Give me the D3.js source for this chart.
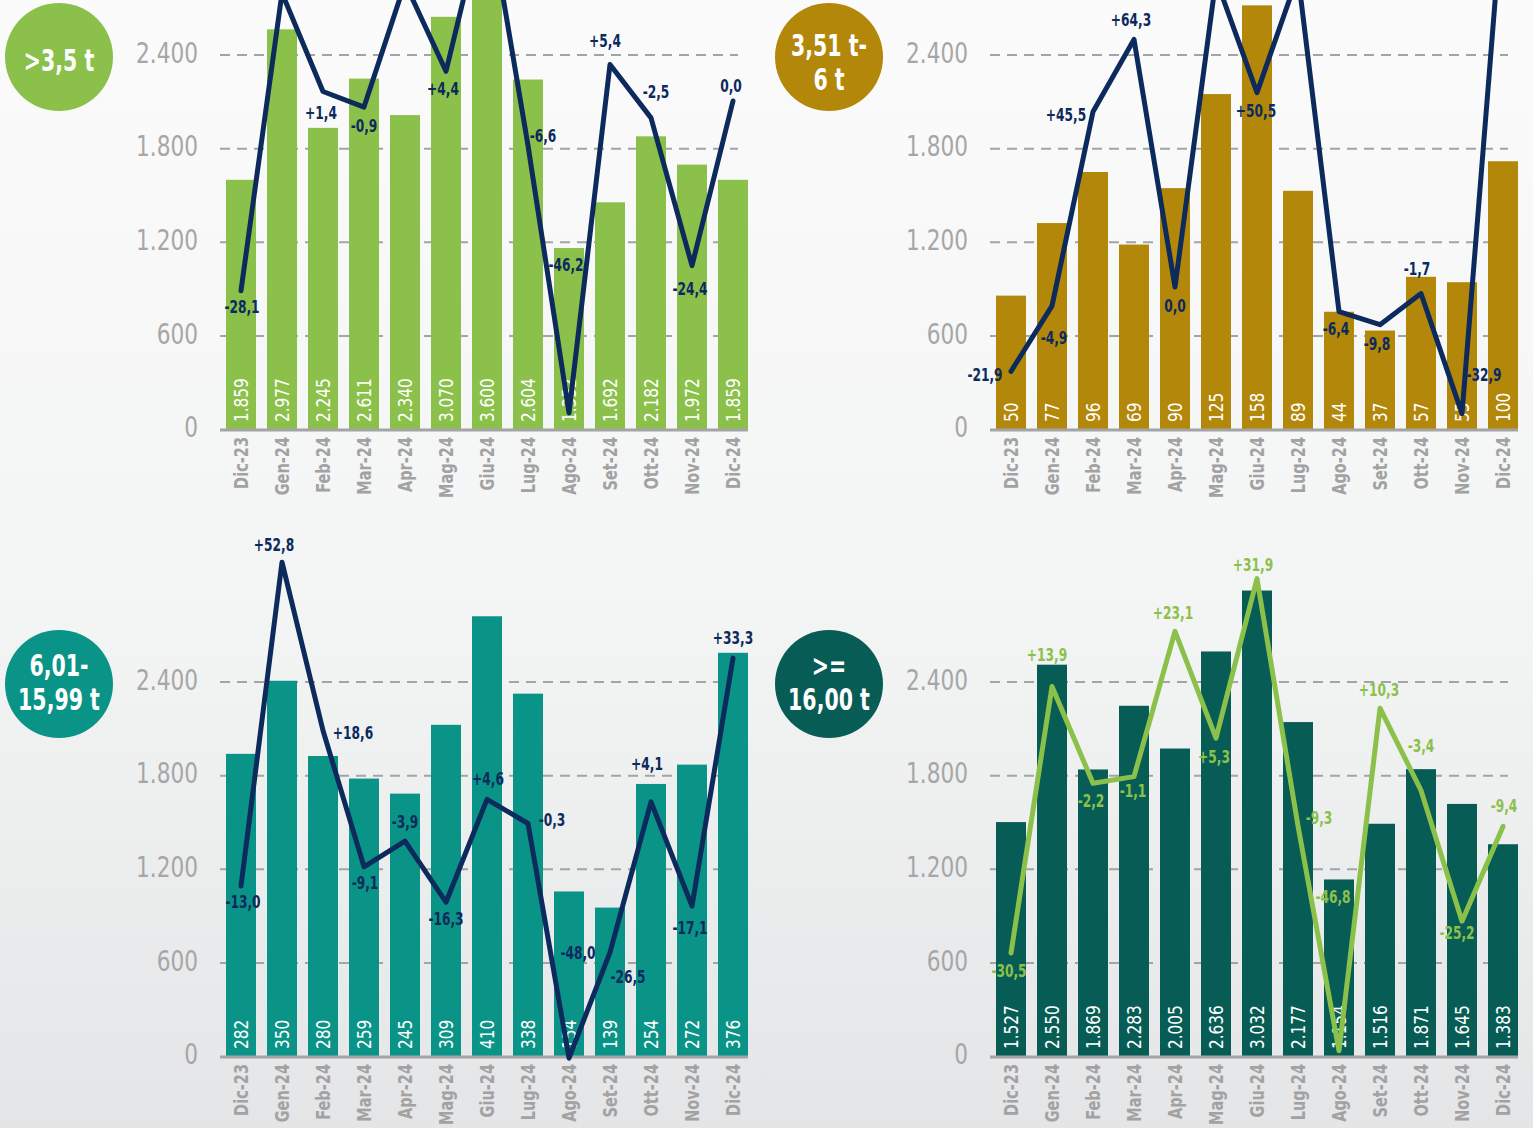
<!DOCTYPE html>
<html>
<head>
<meta charset="utf-8">
<script src="https://cdn.jsdelivr.net/npm/d3@7/dist/d3.min.js"></script>
<style>
  body { margin: 0; background: #f3f4f4; }
  svg { display: block; }
</style>
</head>
<body>
<svg id="chart" width="1533" height="1128"></svg>
<script>
// categories and ticks
var months = ["Dic-23", "Gen-24", "Feb-24", "Mar-24", "Apr-24", "Mag-24", "Giu-24",
              "Lug-24", "Ago-24", "Set-24", "Ott-24", "Nov-24", "Dic-24"];
var yTicks = [0, 600, 1200, 1800, 2400];

// >3,5 t
var volA = [1859, 2977, 2245, 2611, 2340, 3070, 3600, 2604, 1352, 1692, 2182, 1972, 1859];
var pctA = [-28.1, 16.0, 1.4, -0.9, 17.5, 4.4, 29.5, -6.6, -46.2, 5.4, -2.5, -24.4, 0.0];
// 3,51 t - 6 t
var volB = [50, 77, 96, 69, 90, 125, 158, 89, 44, 37, 57, 55, 100];
var pctB = [-21.9, -4.9, 45.5, 64.3, 0.0, 80.0, 50.5, 81.0, -6.4, -9.8, -1.7, -32.9, 100.0];
// 6,01 - 15,99 t
var volC = [282, 350, 280, 259, 245, 309, 410, 338, 154, 139, 254, 272, 376];
var pctC = [-13.0, 52.8, 18.6, -9.1, -3.9, -16.3, 4.6, -0.3, -48.0, -26.5, 4.1, -17.1, 33.3];
// >= 16,00 t
var volD = [1527, 2550, 1869, 2283, 2005, 2636, 3032, 2177, 1154, 1516, 1871, 1645, 1383];
var pctD = [-30.5, 13.9, -2.2, -1.1, 23.1, 5.3, 31.9, -9.3, -46.8, 10.3, -3.4, -25.2, -9.4];

var badgeA = [">3,5 t"];
var badgeB = ["3,51 t-", "6 t"];
var badgeC = ["6,01-", "15,99 t"];
var badgeD = [">=", "16,00 t"];

// label placement (dx, dy from the line vertex)
var lblA = [[1,16],[0,-20],[-2,22],[0,19],[0,-20],[-3,18],[0,-20],[15,-9],[-3,-148],[-5,-23],[5,-26],[-2,23],[-2,-15]];
var lblB = [[-26,4],[2,32],[-27,3],[-3,-19],[0,19],[0,-20],[-1,18],[0,-20],[-3,17],[-3,19],[-4,-25],[22,-39],[0,-20]];
var lblC = [[2,16],[-8,-17],[30,3],[1,16],[0,-19],[0,17],[1,-20],[24,-3],[9,-105],[18,25],[-4,-38],[-2,22],[0,-20]];
var lblD = [[-2,18],[-5,-32],[-2,18],[-1,14],[-2,-18],[-2,19],[-4,-14],[21,-8],[-6,-154],[-1,-18],[0,-44],[-5,12],[1,-20]];

var FONT = '"Liberation Sans Narrow", "DejaVu Sans Condensed", "Roboto Condensed", sans-serif';
var NAVY = "#0c2a5c";

var loc = d3.formatLocale({decimal: ",", thousands: ".", grouping: [3], currency: ["", ""], minus: "-"});
var fmtInt = loc.format(",d");
var fmtPct = function(v){ return v === 0 ? "0,0" : loc.format("+.1f")(v); };

var panels = [
    {x: 0,   y: 0,   vol: volA, pct: pctA, lbl: lblA, badge: badgeA, badgeDy: 3,  color: "#8bc14b", line: NAVY, barMax: 3195, pctDom: [-48.74, 14.96]},
    {x: 770, y: 0,   vol: volB, pct: pctB, lbl: lblB, badge: badgeB, badgeDy: 5,  color: "#b3870a", line: NAVY, barMax: 160,  pctDom: [-37.14, 74.55]},
    {x: 0,   y: 627, vol: volC, pct: pctC, lbl: lblC, badge: badgeC, badgeDy: -2, color: "#0a9488", line: NAVY, barMax: 400,  pctDom: [-47.76, 39.63]},
    {x: 770, y: 627, vol: volD, pct: pctD, lbl: lblD, badge: badgeD, badgeDy: -2, color: "#075d55", line: "#8bc14b", barMax: 2795, pctDom: [-47.83, 23.83]}
];

var svg = d3.select('#chart');

var defs = svg.append('defs');
var grad = defs.append('linearGradient').attr('id', 'bg').attr('x1', 0).attr('y1', 0).attr('x2', 0).attr('y2', 1);
grad.append('stop').attr('offset', '0%').attr('stop-color', '#fbfbfb');
grad.append('stop').attr('offset', '55%').attr('stop-color', '#f3f4f4');
grad.append('stop').attr('offset', '100%').attr('stop-color', '#e4e5e6');
svg.append('rect').attr('width', 1533).attr('height', 1128).attr('fill', 'url(#bg)');

// the font on hand is wider than the original one, so squeeze texts sideways
function tf(x, y, rot, sx){
    return 'translate(' + x + ',' + y + ')' + (rot ? ' rotate(' + rot + ')' : '') + ' scale(' + sx + ',1)';
}

function drawPanel(p){
    var BASE = 430;
    var g = svg.append('g').attr('transform', 'translate(' + p.x + ',' + p.y + ')');

    var x = d3.scaleBand().domain(months).range([220.5, 753.5])
        .paddingInner(11/41).paddingOuter(11/82);
    var yTick = d3.scaleLinear().domain([0, 2400]).range([429.5, 55]);
    var yBar = d3.scaleLinear().domain([0, p.barMax]).range([BASE, 0]);
    var yPct = d3.scaleLinear().domain(p.pctDom).range([BASE, 0]);
    var cxm = function(i){ return x(months[i]) + x.bandwidth()/2; };

    // gridlines
    g.append('g').selectAll('line').data(yTicks.filter(function(d){ return d > 0; }))
        .enter().append('line')
        .attr('x1', 220).attr('x2', 738)
        .attr('y1', function(d){ return yTick(d); })
        .attr('y2', function(d){ return yTick(d); })
        .attr('stroke', '#a4a4a4').attr('stroke-width', 2)
        .attr('stroke-dasharray', '10,7');

    // y tick labels
    g.append('g').selectAll('text').data(yTicks).enter().append('text')
        .attr('transform', function(d){ return tf(198, yTick(d) - 2, 0, 0.86); })
        .attr('dy', '0.35em')
        .attr('text-anchor', 'end')
        .style('font-family', FONT).style('font-size', '28px')
        .attr('fill', '#a6a6a6')
        .text(function(d){ return fmtInt(d); });

    // bars
    g.append('g').selectAll('rect').data(p.vol).enter().append('rect')
        .attr('x', function(d, i){ return x(months[i]); })
        .attr('width', x.bandwidth())
        .attr('y', function(d){ return yBar(d); })
        .attr('height', function(d){ return BASE - yBar(d); })
        .attr('fill', p.color);

    // axis baseline
    g.append('line').attr('x1', 220).attr('x2', 748).attr('y1', BASE).attr('y2', BASE)
        .attr('stroke', '#a4a4a4').attr('stroke-width', 3);

    // x labels
    g.append('g').selectAll('text').data(months).enter().append('text')
        .attr('transform', function(d, i){ return tf(cxm(i), BASE + 7, -90, 0.85); })
        .attr('dy', '0.35em')
        .attr('text-anchor', 'end')
        .style('font-family', FONT).style('font-size', '19px').style('font-weight', 'bold')
        .attr('fill', '#a2a2a2')
        .text(function(d){ return d; });

    // bar values
    g.append('g').selectAll('text').data(p.vol).enter().append('text')
        .attr('transform', function(d, i){ return tf(cxm(i), BASE - 8, -90, 0.85); })
        .attr('dy', '0.35em')
        .attr('text-anchor', 'start')
        .style('font-family', FONT).style('font-size', '20px')
        .attr('fill', '#ffffff')
        .text(function(d){ return fmtInt(d); });

    // percentage line
    var lineFunc = d3.line()
        .x(function(d, i){ return cxm(i); })
        .y(function(d){ return yPct(d); });
    g.append('path')
        .attr('d', lineFunc(p.pct))
        .attr('fill', 'none')
        .attr('stroke', p.line)
        .attr('stroke-width', 5)
        .attr('stroke-linejoin', 'round')
        .attr('stroke-linecap', 'round');

    // labels of points that fall above the picture are not shown in the original
    var pts = p.pct.map(function(v, i){ return {v: v, i: i, y: yPct(v) + p.lbl[i][1]}; })
        .filter(function(d){ return p.y + d.y > 8; });
    g.append('g').selectAll('text').data(pts).enter().append('text')
        .attr('transform', function(d){ return tf(cxm(d.i) + p.lbl[d.i][0], d.y, 0, 0.8); })
        .attr('dy', '0.35em')
        .attr('text-anchor', 'middle')
        .style('font-family', FONT).style('font-size', '17px').style('font-weight', 'bold')
        .attr('fill', p.line)
        .text(function(d){ return fmtPct(d.v); });

    // badge
    var cx = 59, cy = 57;
    g.append('circle').attr('cx', cx).attr('cy', cy).attr('r', 54).attr('fill', p.color);
    var n = p.badge.length;
    g.append('g').selectAll('text').data(p.badge).enter().append('text')
        .attr('transform', function(d, i){ return tf(cx, cy + p.badgeDy + (i - (n - 1)/2) * 34, 0, 0.76); })
        .attr('dy', '0.36em')
        .attr('text-anchor', 'middle')
        .style('font-family', FONT).style('font-size', '30px').style('font-weight', 'bold')
        .attr('fill', '#ffffff')
        .text(function(d){ return d; });
}

panels.forEach(function(p){ drawPanel(p); });
</script>
</body>
</html>
